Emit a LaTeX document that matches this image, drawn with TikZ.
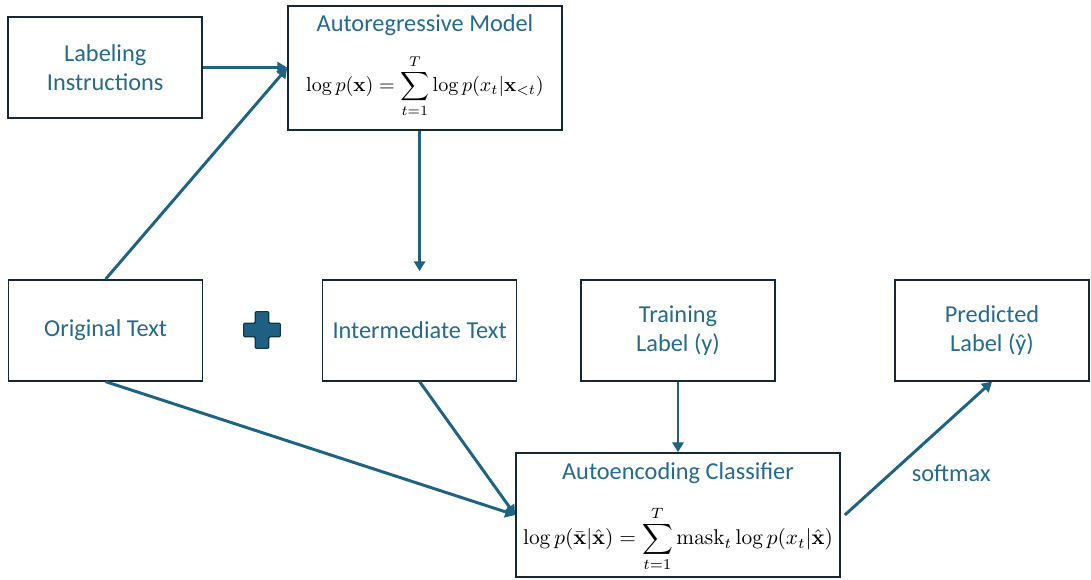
\documentclass[tikz,border=0pt]{standalone}
\usepackage[no-math]{fontspec}
\setmainfont{Carlito}
\usetikzlibrary{arrows.meta,positioning,calc}
\definecolor{flowteal}{RGB}{30,98,132}
\definecolor{textteal}{RGB}{38,106,142}
\definecolor{boxline}{RGB}{22,40,54}
\definecolor{plusfill}{RGB}{30,96,130}
\definecolor{plusline}{RGB}{16,52,72}
\tikzset{
	blockbox/.style={draw=boxline,line width=1.2pt,fill=white,minimum width=4.85cm,minimum height=2.52cm,align=center,text=textteal,font=\fontsize{17.3}{20.5}\selectfont},
	modelbox/.style={draw=boxline,line width=1.2pt,fill=white,minimum height=3.1cm},
	boxtitle/.style={text=textteal,font=\fontsize{17.3}{20.5}\selectfont,inner sep=0},
	flow/.style={-{Triangle[width=8pt,length=7pt]},color=flowteal,line width=2.1pt},
	pluscross/.style={fill=plusfill,draw=plusline,line width=0.8pt,rounded corners=0.8pt}
}

\begin{document}
\begin{tikzpicture}
		\useasboundingbox (0,0) rectangle (27.275,-14.5);
		\node[blockbox] (lab) at (2.63,-1.69) {Labeling\\Instructions};
		\node[modelbox,minimum width=6.85cm] (ar) at (10.625,-1.7) {};
		\node[boxtitle] (artitle) at ($(ar.north)+(0,-0.5)$) {Autoregressive Model};
		\node (areq) at ($(ar.center)+(0,-0.45)$) {\scalebox{1.43}{$\displaystyle \log p(\mathbf{x}) = \sum_{t=1}^{T} \log p(x_t|\mathbf{x}_{<t})$}};
		
		\node[blockbox] (orig) at (2.64,-8.26) {Original Text};
		\node[blockbox] (int) at (10.49,-8.26) {Intermediate Text};
		\node[blockbox] (train) at (16.95,-8.26) {Training\\Label (y)};
		\node[blockbox] (pred) at (24.8,-8.26) {Predicted\\Label (ŷ)};
		
		\node[modelbox,minimum width=8.1cm] (ae) at (16.95,-12.875) {};
		\node[boxtitle] (aetitle) at ($(ae.north)+(0,-0.52)$) {Autoencoding Classifier};
		\node (aeeq) at ($(ae.center)+(0,-0.6)$) {\scalebox{1.52}{$\displaystyle \log p(\bar{\mathbf{x}}|\hat{\mathbf{x}}) = \sum_{t=1}^{T} \mathrm{mask}_t \log p(x_t|\hat{\mathbf{x}})$}};
		
		\draw[pluscross] (6.55,-8.25) ++(-0.17,0.46) -- ++(0.34,0) -- ++(0,-0.29) -- ++(0.29,0) -- ++(0,-0.34) -- ++(-0.29,0) -- ++(0,-0.29) -- ++(-0.34,0) -- ++(0,0.29) -- ++(-0.29,0) -- ++(0,0.34) -- ++(0.29,0) -- cycle;
		
		\draw[flow] (lab.east) -- (lab.east -| ar.west);
		\draw[flow] (orig.north) -- (ar.west);
		\draw[flow] (ar.south -| int.north) -- ([yshift=0.2cm]int.north);
		\draw[flow] (orig.south) -- (ae.west);
		\draw[flow] (int.south) -- (ae.west);
		\draw[flow] (train.south) -- (ae.north);
		\draw[flow] ([xshift=0.1cm]ae.east) -- (pred.south);
		\node[boxtitle] (soft) at (23.78,-11.83) {softmax};
	\end{tikzpicture}
\end{document}
